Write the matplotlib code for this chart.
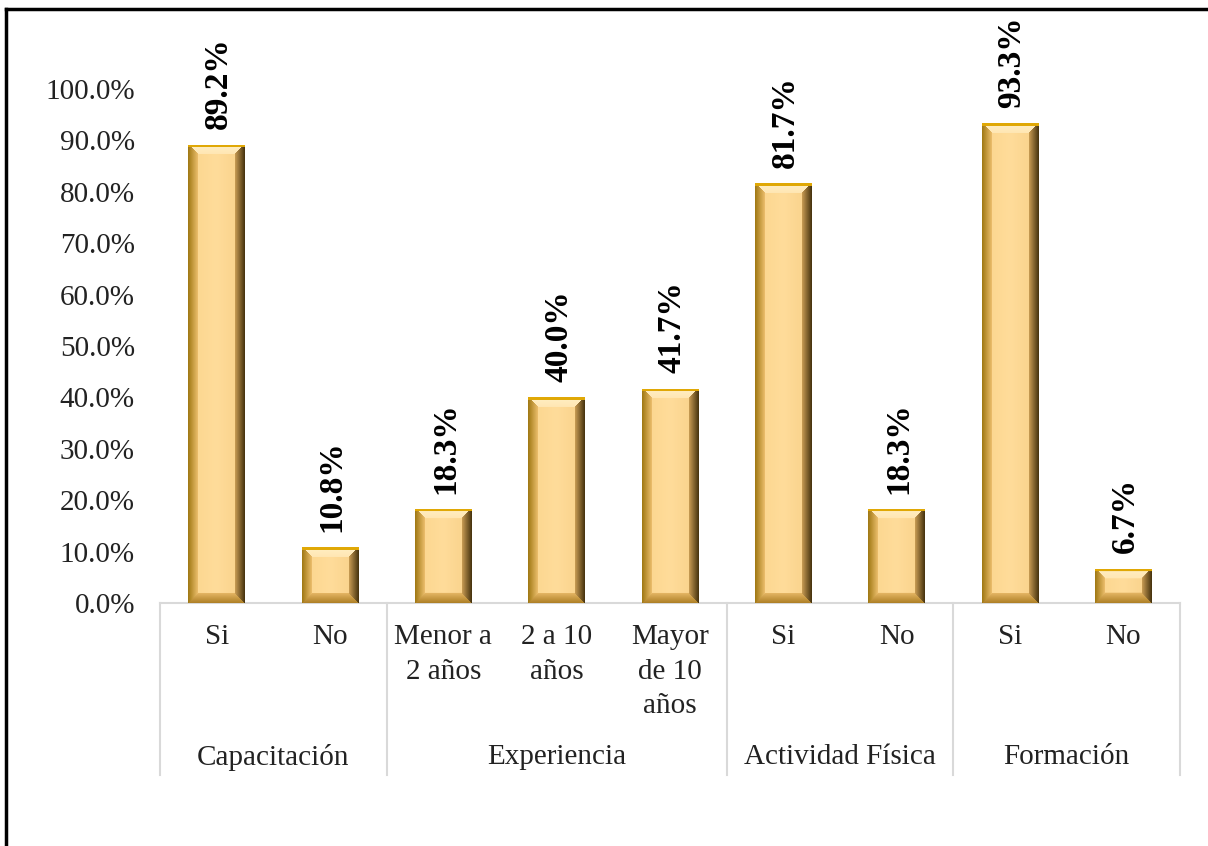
import numpy as np
import matplotlib
matplotlib.use("Agg")
import matplotlib.pyplot as plt
from matplotlib.lines import Line2D
from matplotlib.ticker import PercentFormatter

# Survey results by factor
groups = ["Capacitación", "Experiencia", "Actividad Física", "Formación"]
group_sizes = [2, 3, 2, 2]
answers = ["Si", "No",
           "Menor a\n2 años", "2 a 10\naños", "Mayor\nde 10\naños",
           "Si", "No",
           "Si", "No"]
percent = [89.2, 10.8, 18.3, 40.0, 41.7, 81.7, 18.3, 93.3, 6.7]
y_ticks = [0, 10, 20, 30, 40, 50, 60, 70, 80, 90, 100]

plt.rcParams["font.family"] = ["Liberation Serif", "DejaVu Serif"]

W_PX, H_PX, DPI = 1208, 846, 100
fig = plt.figure(figsize=(W_PX / DPI, H_PX / DPI), dpi=DPI)
ax = fig.add_axes([160 / W_PX, (H_PX - 603) / H_PX,
                   (1180 - 160) / W_PX, (603 - 89) / H_PX])

n = len(percent)
x = np.arange(n)
ax.set_xlim(-0.5, n - 0.5)
ax.set_ylim(0, 100)

bars = ax.bar(x, percent, width=0.5, color="#FFDA96", linewidth=0, zorder=2)


def hexrgb(h):
    h = h.lstrip("#")
    return np.array([int(h[i:i + 2], 16) for i in (0, 2, 4)]) / 255.0


def bevel_image(w, h, b=10):
    """Shaded bevel for a bar of w x h pixels."""
    yy, xx = np.mgrid[0:h, 0:w].astype(float)
    dl, dr = xx, (w - 1) - xx
    dt, db = yy, (h - 1) - yy
    img = np.zeros((h, w, 3))
    # face with a soft horizontal shading
    face_l, face_c, face_r = hexrgb("#FBD58C"), hexrgb("#FFDC9A"), hexrgb("#F8D088")
    u = xx / max(w - 1, 1)
    face = np.where((u < 0.5)[..., None],
                    face_l + (face_c - face_l) * (u[..., None] * 2),
                    face_c + (face_r - face_c) * ((u[..., None] - 0.5) * 2))
    img[:] = face
    dists = np.stack([dl, dr, dt, db])
    nearest = np.argmin(dists, axis=0)
    dmin = np.min(dists, axis=0)
    inside = dmin < b
    t = np.clip(dmin / b, 0, 1)[..., None]
    edge_cols = [(hexrgb("#A27A16"), hexrgb("#F0C272")),   # left
                 (hexrgb("#4A3610"), hexrgb("#D0A258")),   # right
                 (hexrgb("#FFEFC4"), hexrgb("#FFE6B2")),   # top
                 (hexrgb("#B08228"), hexrgb("#E8B968"))]   # bottom
    for k, (c0, c1) in enumerate(edge_cols):
        m = inside & (nearest == k)
        col = c0 + (c1 - c0) * t
        img[m] = col[m]
    # thin gold rim along the top edge
    rim = dt < 2.5
    img[rim] = hexrgb("#E0A806")
    return img


fig.canvas.draw()
for p in bars:
    x0, w = p.get_x(), p.get_width()
    hgt = p.get_height()
    (px0, py0), (px1, py1) = ax.transData.transform([(x0, 0), (x0 + w, hgt)])
    wp = max(int(round(px1 - px0)), 2)
    hp = max(int(round(py1 - py0)), 2)
    im = ax.imshow(bevel_image(wp, hp), extent=[x0, x0 + w, 0, hgt],
                   aspect="auto", interpolation="bilinear", zorder=3)
    im.set_clip_path(p)

ax.set_xlim(-0.5, n - 0.5)
ax.set_ylim(0, 100)

# value labels
for xi, v in zip(x, percent):
    ax.annotate(f"{v:.1f}%", xy=(xi, v), xytext=(1.5, 11),
                textcoords="offset points", rotation=90,
                ha="center", va="bottom", fontsize=24, fontweight="bold",
                color="black", annotation_clip=False, zorder=5)

# y axis
ax.set_yticks(y_ticks)
ax.yaxis.set_major_formatter(PercentFormatter(decimals=1))
ax.tick_params(axis="y", length=0, pad=18, labelsize=21, colors="#222222")
ax.set_xticks([])
for s in ("left", "right", "top"):
    ax.spines[s].set_visible(False)
ax.spines["bottom"].set_color("#D9D9D9")
ax.spines["bottom"].set_linewidth(1.5)

# category labels and separators
sep_color = "#D9D9D9"
lab_y = 603 + 34
line_h = 34.5
grp_y = 757


def fig_y(py):
    return 1 - py / H_PX


for xi, lab in zip(x, answers):
    for j, part in enumerate(lab.split("\n")):
        fig.text(ax.transData.transform((xi, 0))[0] / W_PX,
                 fig_y(lab_y + j * line_h), part, ha="center", va="center",
                 fontsize=21, color="#222222")

start = -0.5
bounds = [start]
for gname, gs in zip(groups, group_sizes):
    mid = start + gs / 2
    fig.text(ax.transData.transform((mid, 0))[0] / W_PX, fig_y(grp_y),
             gname, ha="center", va="center", fontsize=21, color="#222222")
    start += gs
    bounds.append(start)

for b in bounds:
    bx = ax.transData.transform((b, 0))[0] / W_PX
    fig.add_artist(Line2D([bx, bx], [fig_y(603), fig_y(775)],
                          color=sep_color, lw=1.5))

# outer frame (left and top)
fig.add_artist(Line2D([6 / W_PX, 6 / W_PX], [0, fig_y(9)], color="black", lw=2.5))
fig.add_artist(Line2D([6 / W_PX, 1], [fig_y(9), fig_y(9)], color="black", lw=2.5))

fig.savefig("out.png", dpi=DPI)
